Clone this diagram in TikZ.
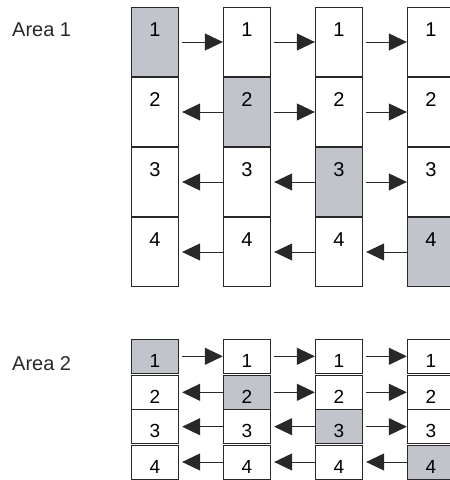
\documentclass[tikz,border=0pt]{standalone}
\usepackage{fontspec}
\setmainfont{Liberation Sans}
\usetikzlibrary{arrows.meta}
\definecolor{cellgray}{RGB}{193,196,203}
\definecolor{linegray}{RGB}{40,40,40}

\tikzset{
  cell/.style={draw=linegray, line width=0.8pt, fill=white, inner sep=0pt,
    minimum width=47.5pt, text height=29pt, text depth=40pt,
    font=\fontsize{20}{22}\selectfont},
  smallcell/.style={cell, text height=28pt, text depth=6pt,
    font=\fontsize{19}{22}\selectfont},
  flow/.style={draw=linegray, line width=1pt,
    arrows={-Triangle[length=18pt,width=17pt]}},
  area/.style={anchor=base west, inner sep=0pt,
    font=\fontsize{20}{22}\selectfont, text=linegray}
}

\begin{document}
\begin{tikzpicture}[x=1pt, y=-1pt]
\useasboundingbox (0,0) rectangle (450,480);

% area 1: tall cells
\node[area] (lab1) at (12,36.7) {Area 1};
\foreach \c/\x in {1/155,2/247,3/339,4/431}
  \foreach \r/\y in {1/42,2/112,3/182,4/252}
    \node[cell] (a\c\r) at (\x,\y) {\r};
\foreach \i in {1,...,4}
  \node[cell, fill=cellgray] at (a\i\i) {\i};
\foreach \r in {1,...,4}
  \foreach \c in {1,2,3} {
    \pgfmathtruncatemacro\n{\c+1}
    \ifnum\c<\r
      \draw[flow, shorten >=3pt] (a\n\r.west) -- (a\c\r.east);
    \else
      \draw[flow, shorten <=3pt] (a\c\r.east) -- (a\n\r.west);
    \fi
  }

% area 2: flat cells
\node[area] (lab2) at (12,370) {Area 2};
\foreach \c/\x in {1/155,2/247,3/339,4/431}
  \foreach \r/\y in {1/356.3,2/392.3,3/426.7,4/462}
    \node[smallcell] (b\c\r) at (\x,\y) {\r};
\foreach \i in {1,...,4}
  \node[smallcell, fill=cellgray] at (b\i\i) {\i};
\foreach \r in {1,...,4}
  \foreach \c in {1,2,3} {
    \pgfmathtruncatemacro\n{\c+1}
    \ifnum\c<\r
      \draw[flow, shorten >=3pt] (b\n\r.west) -- (b\c\r.east);
    \else
      \draw[flow, shorten <=3pt] (b\c\r.east) -- (b\n\r.west);
    \fi
  }
\end{tikzpicture}
\end{document}
